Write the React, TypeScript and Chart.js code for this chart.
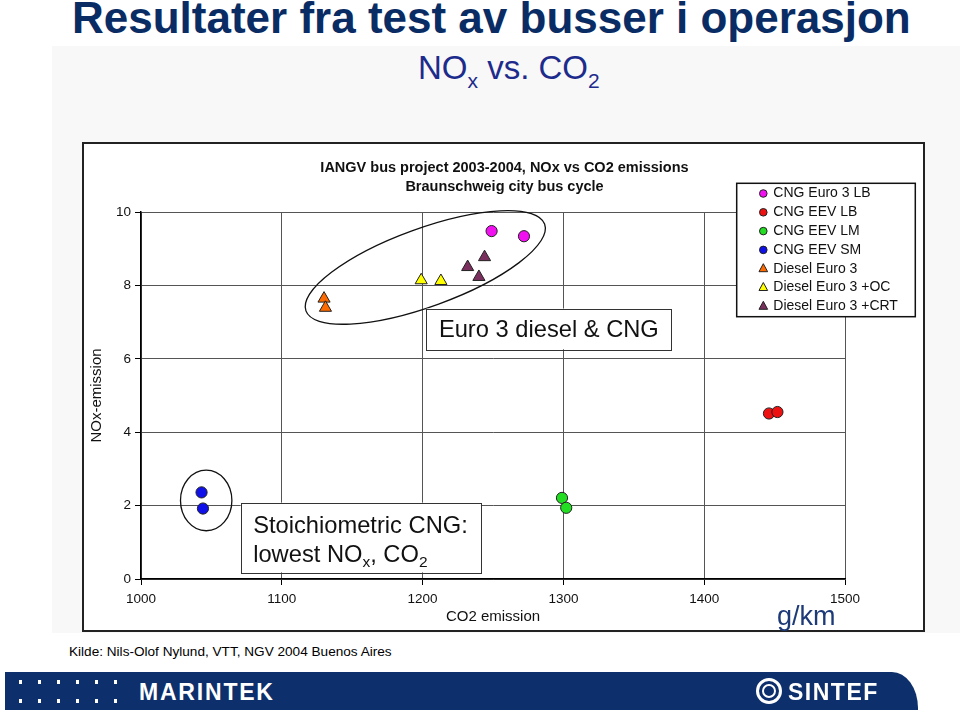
import React, { useEffect, useRef } from 'react';
import { Chart, registerables } from 'chart.js';

Chart.register(...registerables);

// ---------- data ----------
const SERIES_NAMES = [
  'CNG Euro 3 LB',
  'CNG EEV LB',
  'CNG EEV LM',
  'CNG EEV SM',
  'Diesel Euro 3',
  'Diesel Euro 3 +OC',
  'Diesel Euro 3 +CRT',
];
const CO2_CNG_EURO3_LB = [1249, 1272];
const NOX_CNG_EURO3_LB = [9.48, 9.34];
const CO2_CNG_EEV_LB = [1446, 1452];
const NOX_CNG_EEV_LB = [4.51, 4.55];
const CO2_CNG_EEV_LM = [1299, 1302];
const NOX_CNG_EEV_LM = [2.21, 1.94];
const CO2_CNG_EEV_SM = [1043, 1044];
const NOX_CNG_EEV_SM = [2.36, 1.92];
const CO2_DIESEL_EURO3 = [1130, 1131];
const NOX_DIESEL_EURO3 = [7.64, 7.39];
const CO2_DIESEL_EURO3_OC = [1199, 1213];
const NOX_DIESEL_EURO3_OC = [8.14, 8.12];
const CO2_DIESEL_EURO3_CRT = [1232, 1240, 1244];
const NOX_DIESEL_EURO3_CRT = [8.5, 8.23, 8.77];

const X_MIN = 1000;
const X_MAX = 1500;
const X_STEP = 100;
const Y_MIN = 0;
const Y_MAX = 10;
const Y_STEP = 2;

const CHART_TITLE = ['IANGV bus project 2003-2004, NOx vs CO2 emissions', 'Braunschweig city bus cycle'];
const X_TITLE = 'CO2 emission';
const Y_TITLE = 'NOx-emission';

// ---------- styles ----------
const FONT = '"Liberation Sans", Arial, Helvetica, sans-serif';
const COLORS = ['#f010f0', '#ee1111', '#22dd22', '#1010e8', '#ff6a00', '#ffff00', '#7a2f5e'];
const SHAPES = ['circle', 'circle', 'circle', 'circle', 'triangle', 'triangle', 'triangle'];

const pairs = (xs: number[], ys: number[]) => xs.map((x, i) => ({ x, y: ys[i] }));
const SERIES_DATA = [
  pairs(CO2_CNG_EURO3_LB, NOX_CNG_EURO3_LB),
  pairs(CO2_CNG_EEV_LB, NOX_CNG_EEV_LB),
  pairs(CO2_CNG_EEV_LM, NOX_CNG_EEV_LM),
  pairs(CO2_CNG_EEV_SM, NOX_CNG_EEV_SM),
  pairs(CO2_DIESEL_EURO3, NOX_DIESEL_EURO3),
  pairs(CO2_DIESEL_EURO3_OC, NOX_DIESEL_EURO3_OC),
  pairs(CO2_DIESEL_EURO3_CRT, NOX_DIESEL_EURO3_CRT),
];

// annotation ellipses (centre in data units, radii in px)
const ELLIPSES = [
  { cx: 1201.9, cy: 8.49, rx: 127, ry: 39, rot: -20 },
  { cx: 1046.3, cy: 2.14, rx: 25.7, ry: 30.3, rot: 0 },
];

type Seg = { t: string; sub?: boolean };
const BOXES: { x1: number; x2: number; y1: number; y2: number; lines: { dy: number; segs: Seg[] }[] }[] = [
  {
    x1: 1202.7, x2: 1376.6, y1: 7.37, y2: 6.26,
    lines: [{ dy: 28.4, segs: [{ t: 'Euro 3 diesel & CNG' }] }],
  },
  {
    x1: 1070.8, x2: 1241.4, y1: 2.08, y2: 0.18,
    lines: [
      { dy: 30, segs: [{ t: 'Stoichiometric CNG:' }] },
      { dy: 59, segs: [{ t: 'lowest NO' }, { t: 'x', sub: true }, { t: ', CO' }, { t: '2', sub: true }] },
    ],
  },
];

const decorPlugin = {
  id: 'decor',
  beforeDatasetsDraw(chart: any) {
    const { ctx, scales } = chart;
    const xs = scales.x;
    const ys = scales.y;
    ctx.save();
    for (const e of ELLIPSES) {
      ctx.beginPath();
      ctx.ellipse(xs.getPixelForValue(e.cx), ys.getPixelForValue(e.cy), e.rx, e.ry, (e.rot * Math.PI) / 180, 0, Math.PI * 2);
      ctx.strokeStyle = '#111';
      ctx.lineWidth = 1.3;
      ctx.stroke();
    }
    for (const b of BOXES) {
      const l = xs.getPixelForValue(b.x1);
      const r = xs.getPixelForValue(b.x2);
      const t = ys.getPixelForValue(b.y1);
      const btm = ys.getPixelForValue(b.y2);
      ctx.fillStyle = '#ffffff';
      ctx.fillRect(l, t, r - l, btm - t);
      ctx.strokeStyle = '#333';
      ctx.lineWidth = 1;
      ctx.strokeRect(Math.round(l) + 0.5, Math.round(t) + 0.5, Math.round(r - l), Math.round(btm - t));
      ctx.fillStyle = '#111';
      ctx.textBaseline = 'alphabetic';
      ctx.textAlign = 'left';
      for (const line of b.lines) {
        let x = l + 12.5;
        const y = t + line.dy;
        for (const s of line.segs) {
          if (s.sub) {
            ctx.font = `15.5px ${FONT}`;
            ctx.fillText(s.t, x, y + 5);
          } else {
            ctx.font = `23.7px ${FONT}`;
            ctx.fillText(s.t, x, y);
          }
          x += ctx.measureText(s.t).width;
        }
      }
    }
    ctx.restore();
  },
  afterDraw(chart: any) {
    const { ctx } = chart;
    ctx.save();
    // chart title
    ctx.fillStyle = '#111';
    ctx.font = `bold 14.5px ${FONT}`;
    ctx.textAlign = 'center';
    ctx.textBaseline = 'alphabetic';
    ctx.fillText(CHART_TITLE[0], 420.5, 27.5);
    ctx.fillText(CHART_TITLE[1], 420.5, 46.7);

    // legend
    const bx = 652.7, by = 39.3, bw = 178.6, bh = 133.4;
    ctx.fillStyle = '#fff';
    ctx.fillRect(bx, by, bw, bh);
    ctx.strokeStyle = '#111';
    ctx.lineWidth = 1.5;
    ctx.strokeRect(bx, by, bw, bh);
    chart.data.datasets.forEach((ds: any, i: number) => {
      const cy = 49.5 + i * 18.8;
      const mx = 679.3;
      ctx.fillStyle = ds.backgroundColor;
      ctx.strokeStyle = '#222';
      ctx.lineWidth = 1;
      ctx.beginPath();
      if (ds.pointStyle === 'triangle') {
        const r = 5;
        ctx.moveTo(mx, cy - r);
        ctx.lineTo(mx + r * 0.866, cy + r * 0.5 + 0.5);
        ctx.lineTo(mx - r * 0.866, cy + r * 0.5 + 0.5);
        ctx.closePath();
      } else {
        ctx.arc(mx, cy, 3.8, 0, Math.PI * 2);
      }
      ctx.fill();
      ctx.stroke();
      ctx.fillStyle = '#111';
      ctx.font = `14px ${FONT}`;
      ctx.textAlign = 'left';
      ctx.textBaseline = 'middle';
      ctx.fillText(ds.label, 689.3, cy);
    });
    ctx.restore();
  },
};

function NOxChart() {
  const ref = useRef<HTMLCanvasElement | null>(null);
  useEffect(() => {
    if (!ref.current) return;
    const chart = new Chart(ref.current, {
      type: 'scatter',
      data: {
        datasets: SERIES_NAMES.map((name, i) => ({
          label: name,
          data: SERIES_DATA[i],
          backgroundColor: COLORS[i],
          borderColor: '#222',
          borderWidth: 1,
          pointStyle: SHAPES[i] as any,
          pointRadius: SHAPES[i] === 'triangle' ? 7 : 5.6,
          pointHoverRadius: SHAPES[i] === 'triangle' ? 7 : 5.6,
          showLine: false,
        })),
      },
      options: {
        animation: false,
        responsive: false,
        maintainAspectRatio: false,
        devicePixelRatio: 1,
        events: [],
        layout: { padding: { left: 0, top: 68, right: 78, bottom: 4 } },
        plugins: {
          legend: { display: false },
          title: { display: false },
          tooltip: { enabled: false },
        },
        scales: {
          x: {
            type: 'linear',
            position: 'bottom',
            min: X_MIN,
            max: X_MAX,
            ticks: {
              stepSize: X_STEP,
              color: '#111',
              padding: 6,
              maxRotation: 0,
              font: { family: FONT, size: 13.5 },
              callback: (v: any) => String(v),
            },
            grid: { color: '#555', lineWidth: 1, tickLength: 6, tickColor: '#000' },
            border: { color: '#000', width: 1.5 },
            title: {
              display: true,
              text: X_TITLE,
              color: '#111',
              font: { family: FONT, size: 15 },
              padding: { top: 0, bottom: 0 },
            },
            afterFit: (s: any) => {
              s.height = 47;
            },
          },
          y: {
            type: 'linear',
            min: Y_MIN,
            max: Y_MAX,
            ticks: {
              stepSize: Y_STEP,
              color: '#111',
              padding: 4,
              font: { family: FONT, size: 13.5 },
              callback: (v: any) => String(v),
            },
            grid: { color: '#555', lineWidth: 1, tickLength: 6, tickColor: '#000' },
            border: { color: '#000', width: 1.5 },
            title: {
              display: true,
              text: Y_TITLE,
              color: '#111',
              font: { family: FONT, size: 15 },
              padding: { top: 4, bottom: 0 },
            },
            afterFit: (s: any) => {
              s.width = 57;
            },
          },
        },
      } as any,
      plugins: [decorPlugin],
    });
    return () => chart.destroy();
  }, []);
  return <canvas ref={ref} width={839} height={486} style={{ display: 'block', width: 839, height: 486 }} />;
}

const abs = (o: React.CSSProperties): React.CSSProperties => ({ position: 'absolute', margin: 0, padding: 0, whiteSpace: 'nowrap', ...o });

export default function App() {
  const dotsX = [19, 38, 57, 76, 95, 114];
  return (
    <div style={{ position: 'fixed', left: 0, top: 0, width: 960, height: 712, overflow: 'hidden', background: '#fff', fontFamily: FONT }}>
      <div style={abs({ left: 52, top: 46, width: 908, height: 587, background: '#f8f8f8' })} />
      <div style={abs({ left: 72, top: -4.2, fontSize: 44, lineHeight: 1, fontWeight: 'bold', color: '#0a2c64' })}>
        Resultater fra test av busser i operasjon
      </div>
      <div style={abs({ left: 418, top: 51.4, fontSize: 33, lineHeight: 1, color: '#1d2b8c' })}>
        NO<span style={{ fontSize: 21, position: 'relative', top: 9 }}>x</span> vs. CO
        <span style={{ fontSize: 21, position: 'relative', top: 9 }}>2</span>
      </div>
      <div style={abs({ left: 82, top: 142, width: 843, height: 490, border: '2px solid #222', boxSizing: 'border-box', background: '#fff' })}>
        <NOxChart />
      </div>
      <div style={abs({ left: 777, top: 603, fontSize: 27, lineHeight: 1, color: '#1d3a78' })}>g/km</div>
      <div style={abs({ left: 69, top: 644.5, fontSize: 13.6, lineHeight: 1, color: '#000' })}>
        Kilde: Nils-Olof Nylund, VTT, NGV 2004 Buenos Aires
      </div>
      <div
        style={abs({
          left: 5,
          top: 672,
          width: 913,
          height: 38,
          background: '#0d2f6c',
          borderTopRightRadius: '26px 36px',
        })}
      />
      {dotsX.map((x) =>
        [680, 699].map((y) => <div key={`${x}-${y}`} style={abs({ left: x, top: y, width: 3, height: 4, background: '#fff' })} />)
      )}
      <div style={abs({ left: 139, top: 680.5, fontSize: 23, lineHeight: 1, fontWeight: 'bold', color: '#fff', letterSpacing: 1.8 })}>
        MARINTEK
      </div>
      <div style={abs({ left: 756, top: 678, width: 26, height: 26, borderRadius: '50%', border: '3px solid #fff', boxSizing: 'border-box' })} />
      <div style={abs({ left: 762, top: 684, width: 14, height: 14, borderRadius: '50%', border: '2px solid #fff', boxSizing: 'border-box' })} />
      <div style={abs({ left: 788, top: 680.5, fontSize: 23, lineHeight: 1, fontWeight: 'bold', color: '#fff', letterSpacing: 1.5 })}>
        SINTEF
      </div>
    </div>
  );
}
